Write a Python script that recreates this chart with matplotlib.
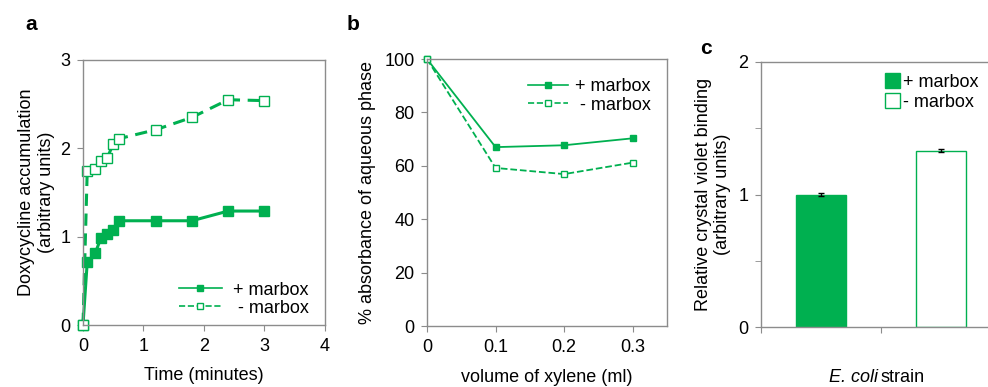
import matplotlib.pyplot as plt
from matplotlib.lines import Line2D
from matplotlib.patches import Patch

plt.rcParams['font.family'] = ['Liberation Sans', 'DejaVu Sans']

GREEN = '#00B050'
SPINE = '#8c8c8c'

# panel a: doxycycline accumulation over time
timeMinutes = [0, 0.07, 0.2, 0.3, 0.4, 0.5, 0.6, 1.2, 1.8, 2.4, 3.0]
accumPlus = [0, 0.71, 0.81, 0.99, 1.03, 1.08, 1.18, 1.18, 1.18, 1.29, 1.29]
accumMinus = [0, 1.74, 1.77, 1.86, 1.89, 2.05, 2.11, 2.21, 2.35, 2.55, 2.54]

# panel b: absorbance of aqueous phase vs xylene volume
xyleneMl = [0, 0.1, 0.2, 0.3]
absorbPlus = [100, 67.0, 67.7, 70.3]
absorbMinus = [100, 59.2, 56.9, 61.2]

# panel c: crystal violet binding
strainLabels = ['+ marbox', '- marbox']
binding = [1.0, 1.33]
bindingErr = [0.01, 0.01]


def styleAxes(ax):
    for side in ['left', 'right', 'top', 'bottom']:
        ax.spines[side].set_color(SPINE)
        ax.spines[side].set_linewidth(1.0)
    ax.tick_params(direction='out', length=4, color=SPINE,
                   labelsize=13, pad=5)


fig = plt.figure(figsize=(9.88, 3.87), dpi=100)

# ---- panel a
axA = fig.add_axes([0.0840, 0.1602, 0.2449, 0.6848])
axA.plot(timeMinutes, accumPlus, '-s', color=GREEN, lw=2.2, ms=7.5,
         mfc=GREEN, mec=GREEN, clip_on=False)
axA.plot(timeMinutes, accumMinus, '--s', color=GREEN, lw=2.2, ms=7.5,
         mfc='white', mec=GREEN, mew=1.0, dashes=(4, 2.5), clip_on=False)
axA.set_xlim(0, 4)
axA.set_ylim(0, 3)
axA.set_xticks([0, 1, 2, 3, 4])
axA.set_yticks([0, 1, 2, 3])
styleAxes(axA)
axA.set_xlabel('Time (minutes)', fontsize=13, labelpad=9)
axA.set_ylabel('Doxycycline accumulation\n(arbitrary units)', fontsize=13,
               labelpad=4)
handlesA = [
    Line2D([], [], color=GREEN, lw=1.2, marker='s', ms=5, mfc=GREEN),
    Line2D([], [], color=GREEN, lw=1.2, ls='--', marker='s', ms=5,
           mfc='white'),
]
axA.legend(handlesA, ['+ marbox', ' - marbox'], loc='lower right',
           bbox_to_anchor=(1.0, -0.03), frameon=False, fontsize=13,
           handlelength=2.4, labelspacing=0.05, handletextpad=0.6)

# ---- panel b
axB = fig.add_axes([0.4322, 0.1576, 0.2429, 0.6899])
axB.plot(xyleneMl, absorbPlus, '-s', color=GREEN, lw=1.3, ms=4.5,
         mfc=GREEN, mec=GREEN, clip_on=False)
axB.plot(xyleneMl, absorbMinus, '--s', color=GREEN, lw=1.3, ms=4.5,
         mfc='white', mec=GREEN, mew=1.0, clip_on=False)
axB.set_xlim(0, 0.35)
axB.set_ylim(0, 100)
axB.set_xticks([0, 0.1, 0.2, 0.3])
axB.set_xticklabels(['0', '0.1', '0.2', '0.3'])
axB.set_yticks([0, 20, 40, 60, 80, 100])
styleAxes(axB)
axB.set_xlabel('volume of xylene (ml)', fontsize=13, labelpad=10)
axB.set_ylabel('% absorbance of aqueous phase', fontsize=13, labelpad=6)
handlesB = [
    Line2D([], [], color=GREEN, lw=1.2, marker='s', ms=4.5, mfc=GREEN),
    Line2D([], [], color=GREEN, lw=1.2, ls='--', marker='s', ms=4.5,
           mfc='white'),
]
axB.legend(handlesB, ['+ marbox', ' - marbox'], loc='upper right',
           bbox_to_anchor=(1.0, 0.99), frameon=False, fontsize=13,
           handlelength=2.2, labelspacing=0.1, handletextpad=0.4)

# ---- panel c
axC = fig.add_axes([0.7702, 0.1550, 0.2429, 0.6848])
barX = [0.5, 1.5]
axC.bar(barX, binding, width=0.41, color=[GREEN, 'white'],
        edgecolor=GREEN, linewidth=1.0,
        yerr=bindingErr, ecolor='black', capsize=2.5,
        error_kw={'elinewidth': 1.0, 'capthick': 1.0})
axC.set_xlim(0, 2)
axC.set_ylim(0, 2)
axC.set_xticks([0, 1, 2])
axC.set_xticklabels([])
axC.set_yticks([0, 1, 2])
axC.set_yticks([0.5, 1.5], minor=True)
styleAxes(axC)
axC.tick_params(axis='y', which='minor', direction='out', length=4,
                color=SPINE)
axC.set_ylabel('Relative crystal violet binding\n(arbitrary units)',
               fontsize=13, labelpad=5)
# x label: italic species name followed by plain word
fig.text(878 / 988, 1 - 377 / 387, 'E. coli', fontsize=13,
         fontstyle='italic', ha='right', va='center')
fig.text(880 / 988, 1 - 377 / 387, 'strain', fontsize=13,
         ha='left', va='center')
handlesC = [Patch(facecolor=GREEN, edgecolor=GREEN),
            Patch(facecolor='white', edgecolor=GREEN)]
axC.legend(handlesC, strainLabels, loc='upper left',
           bbox_to_anchor=(0.45, 1.02), frameon=False, fontsize=13,
           handlelength=0.8, handleheight=0.9, labelspacing=0.15,
           handletextpad=0.2)

# panel letters
fig.text(25 / 988, 1 - 25 / 387, 'a', fontsize=15, fontweight='bold',
         va='center', ha='left')
fig.text(347 / 988, 1 - 25 / 387, 'b', fontsize=15, fontweight='bold',
         va='center', ha='left')
fig.text(700 / 988, 1 - 48 / 387, 'c', fontsize=15, fontweight='bold',
         va='center', ha='left')

fig.savefig('out.png', dpi=100)
